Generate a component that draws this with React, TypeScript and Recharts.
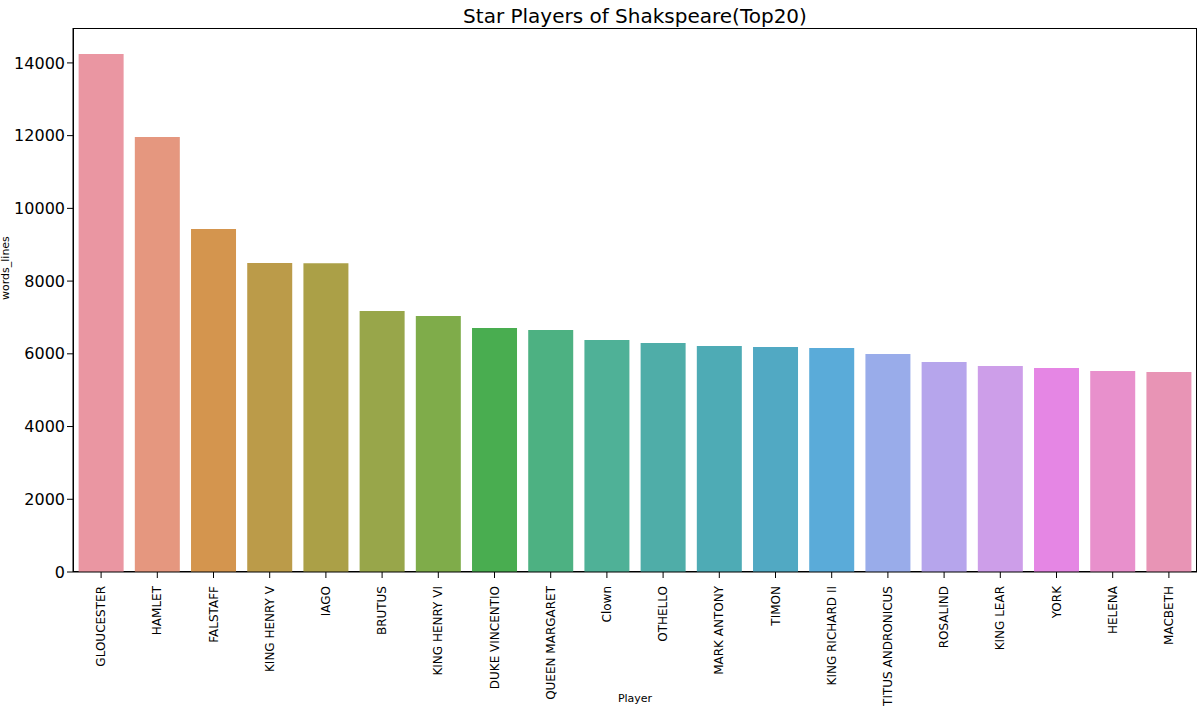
import { BarChart, Bar, XAxis, YAxis, Cell, Label } from "recharts";

const players = [
  "GLOUCESTER", "HAMLET", "FALSTAFF", "KING HENRY V", "IAGO", "BRUTUS", "KING HENRY VI",
  "DUKE VINCENTIO", "QUEEN MARGARET", "Clown", "OTHELLO", "MARK ANTONY", "TIMON",
  "KING RICHARD II", "TITUS ANDRONICUS", "ROSALIND", "KING LEAR", "YORK", "HELENA", "MACBETH",
];
const wordsLines = [
  14246, 11964, 9433, 8498, 8490, 7178, 7040, 6710, 6655, 6380,
  6298, 6215, 6188, 6160, 5995, 5775, 5665, 5610, 5528, 5500,
];
const colors = [
  "#ea96a2", "#e5977f", "#d4954e", "#bb9b49", "#aba047", "#98a64a", "#7fac4a",
  "#49ad50", "#4db182", "#4fb197", "#4fada8", "#4eabb5", "#51a9c3", "#5aabd9",
  "#99acea", "#b6a5ec", "#cd9ee9", "#e586e4", "#e890cc", "#e894b5",
];
const yTicks = [0, 2000, 4000, 6000, 8000, 10000, 12000, 14000];

const data = players.map((p, i) => ({ player: p, value: wordsLines[i] }));

const RotTick = ({ x, y, payload }: any) => (
  <text
    x={x}
    y={y + 6}
    transform={`rotate(-90 ${x} ${y + 6})`}
    textAnchor="end"
    dominantBaseline="central"
    fontSize={12}
    fill="#000"
  >
    {payload.value}
  </text>
);

export default function App() {
  const font = "'DejaVu Sans', sans-serif";
  return (
    <div style={{ position: "absolute", left: 0, top: 0, width: 1203, height: 719, background: "#fff", fontFamily: font }}>
      <div style={{ position: "absolute", left: 0, top: 4, width: 1270, textAlign: "center", fontSize: 20 }}>
        Star Players of Shakspeare(Top20)
      </div>
      <div style={{ position: "absolute", left: 73, top: 28, width: 1124, height: 544, border: "1px solid #000", boxSizing: "border-box", pointerEvents: "none" }} />
      <BarChart width={1203} height={719} data={data} margin={{ top: 28, right: 6, left: 13, bottom: 17 }} barCategoryGap="10%">
        <XAxis
          dataKey="player"
          interval={0}
          height={130}
          tick={<RotTick />}
          tickLine={{ stroke: "#000" }}
          axisLine={{ stroke: "#000" }}
        >
          <Label value="Player" position="insideBottom" offset={0} fontSize={11} fill="#000" />
        </XAxis>
        <YAxis
          width={60}
          domain={[0, 14960]}
          ticks={yTicks}
          tick={{ fontSize: 16, fill: "#000" }}
          tickLine={{ stroke: "#000" }}
          axisLine={{ stroke: "#000" }}
        >
          <Label value="words_lines" angle={-90} position="insideLeft" offset={-8} fontSize={11} fill="#000" />
        </YAxis>
        <Bar dataKey="value" isAnimationActive={false}>
          {data.map((d, i) => (
            <Cell key={d.player} fill={colors[i]} />
          ))}
        </Bar>
      </BarChart>
    </div>
  );
}
